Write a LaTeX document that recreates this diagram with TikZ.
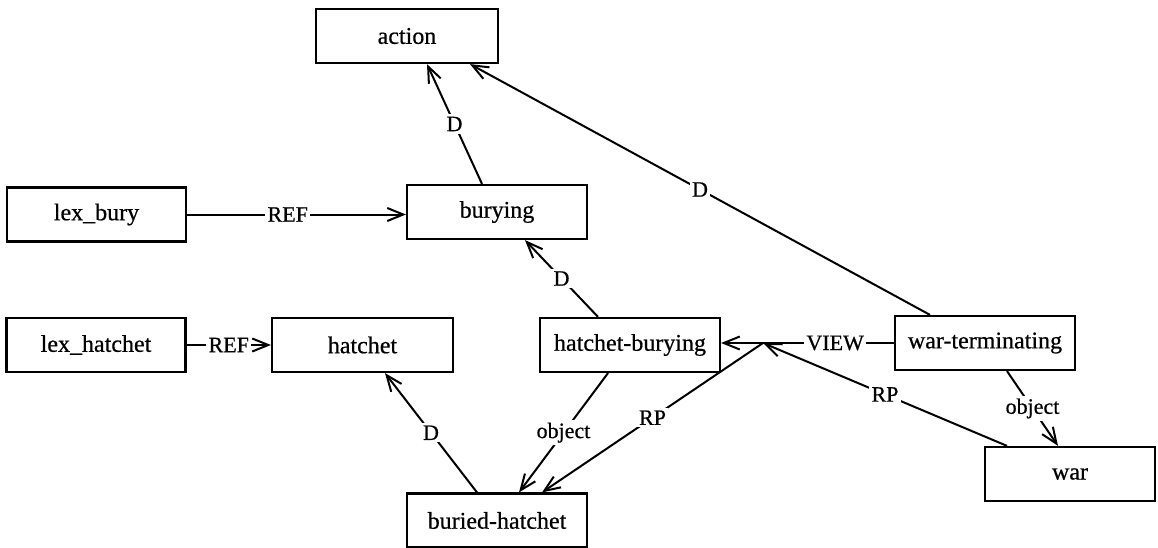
\documentclass[tikz,border=0pt]{standalone}
\usepackage{fontspec}
\setmainfont{Liberation Serif}
% slightly heavier serif, like a dark print
\newfontfamily\printfont{Liberation Serif}[FakeBold=0.6]
\usetikzlibrary{arrows.meta}
\begin{document}
\begin{tikzpicture}[x=1pt,y=-1pt,
  box/.style={draw, line width=2.2pt, minimum width=180pt, minimum height=54pt,
    inner sep=0pt, font=\printfont\fontsize{24}{26}\selectfont},
  link/.style={line width=2pt,
    -{Straight Barb[length=16pt,width=13pt,line width=2pt]}},
  tag/.style={fill=white, inner sep=2.5pt, font=\printfont\fontsize{22}{24}\selectfont}
]
\useasboundingbox (0,0) rectangle (1158,548);

% concept boxes
\node[box, minimum width=182pt] (action)     at (407,36)    {action};
\node[box, minimum width=179pt] (lexbury)    at (96.5,214.5) {lex\_bury};
\node[box]                      (burying)    at (497,212)   {burying};
\node[box, minimum width=179pt] (lexhatchet) at (96,345)    {lex\_hatchet};
\node[box, minimum width=181pt] (hatchet)    at (362.5,345) {hatchet};
\node[box]                      (hatchbury)  at (630,345)   {hatchet-burying};
\node[box]                      (warterm)    at (985,343)   {war-terminating};
\node[box, minimum width=170pt] (war)        at (1070,474)  {war};
\node[box]                      (buried)     at (497,520.5) {buried-hatchet};

% junction where the two RP links meet the VIEW link
\coordinate (j) at (763,343);

% links
\draw[link] ([xshift=-15pt]burying.north) -- node[tag]{D} ([xshift=20pt]action.south);
\draw[link] ([xshift=-55pt]warterm.north) -- node[tag]{D} ([xshift=63pt]action.south);
\draw[link] (lexbury.east) -- node[tag, pos=0.46]{REF} (lexbury.east -| burying.west);
\draw[link] (lexhatchet.east) -- node[tag]{REF} (hatchet.west);
\draw[link] ([xshift=-32pt]hatchbury.north) -- node[tag]{D} ([xshift=28pt]burying.south);
\draw[link] ([xshift=-20pt]buried.north) -- node[tag]{D} ([xshift=22.5pt]hatchet.south);
\draw[link] ([xshift=-22pt]hatchbury.south) -- node[tag]{object} ([xshift=22pt]buried.north);
\draw[link] (j) -- node[tag]{RP} ([xshift=45pt]buried.north);
\draw[link] ([xshift=-63pt]war.north) -- node[tag]{RP} (j);
\draw[link] (warterm.west) -- node[tag, pos=0.34]{VIEW} (warterm.west -| hatchbury.east);
\draw[link] ([xshift=22pt]warterm.south) -- node[tag]{object} ([xshift=-12pt]war.north);
\end{tikzpicture}
\end{document}
